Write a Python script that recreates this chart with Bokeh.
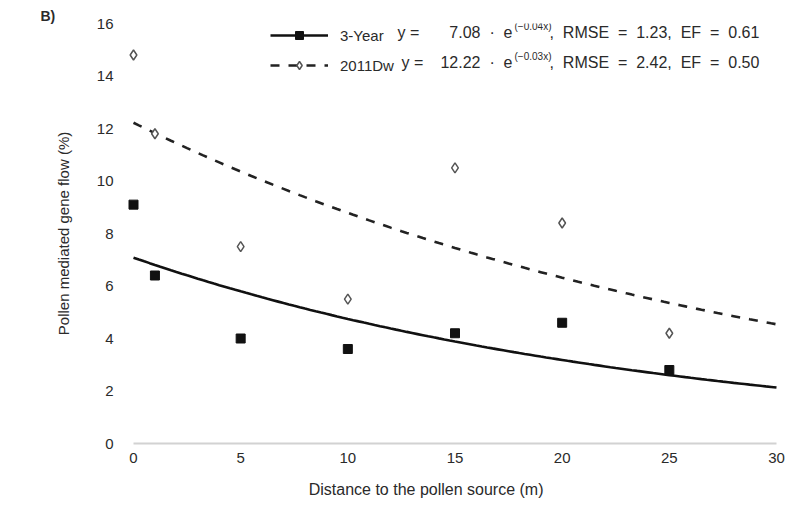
import numpy as np
from bokeh.plotting import figure
from bokeh.models import Range1d, FixedTicker, Legend, LegendItem, Title, Label
from bokeh.embed import file_html
from bokeh.resources import INLINE

# ---- data ----
distance = [0, 1, 5, 10, 15, 20, 25]
year3 = [9.1, 6.4, 4.0, 3.6, 4.2, 4.6, 2.8]
dw2011 = [14.8, 11.8, 7.5, 5.5, 10.5, 8.4, 4.2]

# fitted exponential models y = a * exp(-b x)
fit3_a, fit3_b = 7.08, 0.040
fitdw_a, fitdw_b = 12.22, 0.033

NB = "\u00a0"
series_names = ["3-Year", "2011Dw"]
coef_text = ["7.08" + NB * 2 + "\u00b7" + NB * 2 + "e", "12.22" + NB * 2 + "\u00b7" + NB * 2 + "e"]
exp_text = ["(\u22120.04x)", "(\u22120.03x)"]
stats_text = ["," + NB * 2 + "RMSE" + NB * 2 + "=" + NB * 2 + "1.23," + NB * 2 + "EF" + NB * 2 + "=" + NB * 2 + "0.61",
              "," + NB * 2 + "RMSE" + NB * 2 + "=" + NB * 2 + "2.42," + NB * 2 + "EF" + NB * 2 + "=" + NB * 2 + "0.50"]

x_ticks = [0, 5, 10, 15, 20, 25, 30]
y_ticks = [0, 2, 4, 6, 8, 10, 12, 14, 16]

FONT = "Liberation Sans"
TXT = "#2a2a2a"

W, H = 805, 517
BL, BR, BT, BB = 118, 14, 23, 74
XR = (-0.7, 30.7)
YR = (0, 16)

p = figure(width=W, height=H, output_backend="svg", toolbar_location=None,
           x_range=Range1d(*XR), y_range=Range1d(*YR))
p.min_border_left = BL
p.min_border_right = BR
p.min_border_top = BT
p.min_border_bottom = BB
p.outline_line_color = None
p.background_fill_color = "white"
p.border_fill_color = "white"
p.xgrid.grid_line_color = None
p.ygrid.grid_line_color = None

# pixel -> data helpers for placing the legend formula texts
XS = (W - BL - BR) / (XR[1] - XR[0])
YS = (H - BT - BB) / (YR[1] - YR[0])
def dx(px):
    return XR[0] + (px - BL) / XS
def dy(py):
    return YR[1] - (py - BT) / YS

xf = np.linspace(0, 30, 121)
r_fit3 = p.line(xf, fit3_a * np.exp(-fit3_b * xf), line_color="#111111", line_width=2.6)
r_fitdw = p.line(xf, fitdw_a * np.exp(-fitdw_b * xf), line_color="#222222", line_width=2.6,
                 line_dash="9 9")
r_pts3 = p.scatter(distance, year3, marker="square", size=9, fill_color="#111111",
                   line_color="#111111")
r_ptsdw = p.scatter(distance, dw2011, marker="diamond", size=10, fill_color="white",
                    line_color="#555555", line_width=1.5)

# axes
p.xaxis.ticker = FixedTicker(ticks=x_ticks)
p.yaxis.ticker = FixedTicker(ticks=y_ticks)
for ax in (p.xaxis[0], p.yaxis[0]):
    ax.major_tick_line_color = None
    ax.minor_tick_line_color = None
    ax.major_tick_out = 0
    ax.major_tick_in = 0
    ax.minor_tick_out = 0
    ax.major_label_text_font = FONT
    ax.major_label_text_font_size = "15px"
    ax.major_label_text_color = TXT
    ax.axis_label_text_font = FONT
    ax.axis_label_text_font_size = "15px"
    ax.axis_label_text_font_style = "normal"
    ax.axis_label_text_color = TXT
p.yaxis.axis_line_color = None
p.xaxis.axis_line_color = "#d2d2d2"
p.xaxis.axis_line_width = 2
p.xaxis.bounds = (0, 30)
p.yaxis.major_label_standoff = 5
p.xaxis.major_label_standoff = 9
p.yaxis.axis_label = "Pollen mediated gene flow (%)"
p.xaxis.axis_label = "Distance to the pollen source (m)" + NB * 13
p.xaxis.axis_label_text_font_size = "16px"
p.yaxis.axis_label_standoff = 22
p.xaxis.axis_label_standoff = 15

legend = Legend(items=[
    LegendItem(label=series_names[0], renderers=[r_fit3, r_pts3]),
    LegendItem(label=series_names[1], renderers=[r_fitdw, r_ptsdw]),
], location=(152, 368))
legend.glyph_width = 58
legend.glyph_height = 20
legend.label_height = 20
legend.spacing = 10
legend.padding = 0
legend.margin = 0
legend.label_standoff = 12
legend.border_line_color = None
legend.background_fill_alpha = 0
legend.label_text_font = FONT
legend.label_text_font_size = "15px"
legend.label_text_color = TXT
p.add_layout(legend)

row_y = [32, 62]
yeq_x = [397, 401]
for i in range(2):
    common = dict(text_font=FONT, text_color=TXT, text_baseline="middle")
    p.add_layout(Label(x=dx(yeq_x[i]), y=dy(row_y[i]), text="y =", text_align="left",
                       text_font_size="16px", **common))
    p.add_layout(Label(x=dx(512), y=dy(row_y[i]), text=coef_text[i],
                       text_align="right", text_font_size="16px", **common))
    p.add_layout(Label(x=dx(514), y=dy(row_y[i] - 6), text=exp_text[i], text_align="left",
                       text_font_size="10px", **common))
    p.add_layout(Label(x=dx(549), y=dy(row_y[i]), text=stats_text[i], text_align="left",
                       text_font_size="16px", **common))

p.add_layout(Title(text="B)", align="left", offset=-78, standoff=0, text_font=FONT,
                   text_font_size="14px", text_font_style="bold", text_color=TXT), "above")

open("out.html", "w").write(file_html(p, INLINE))
